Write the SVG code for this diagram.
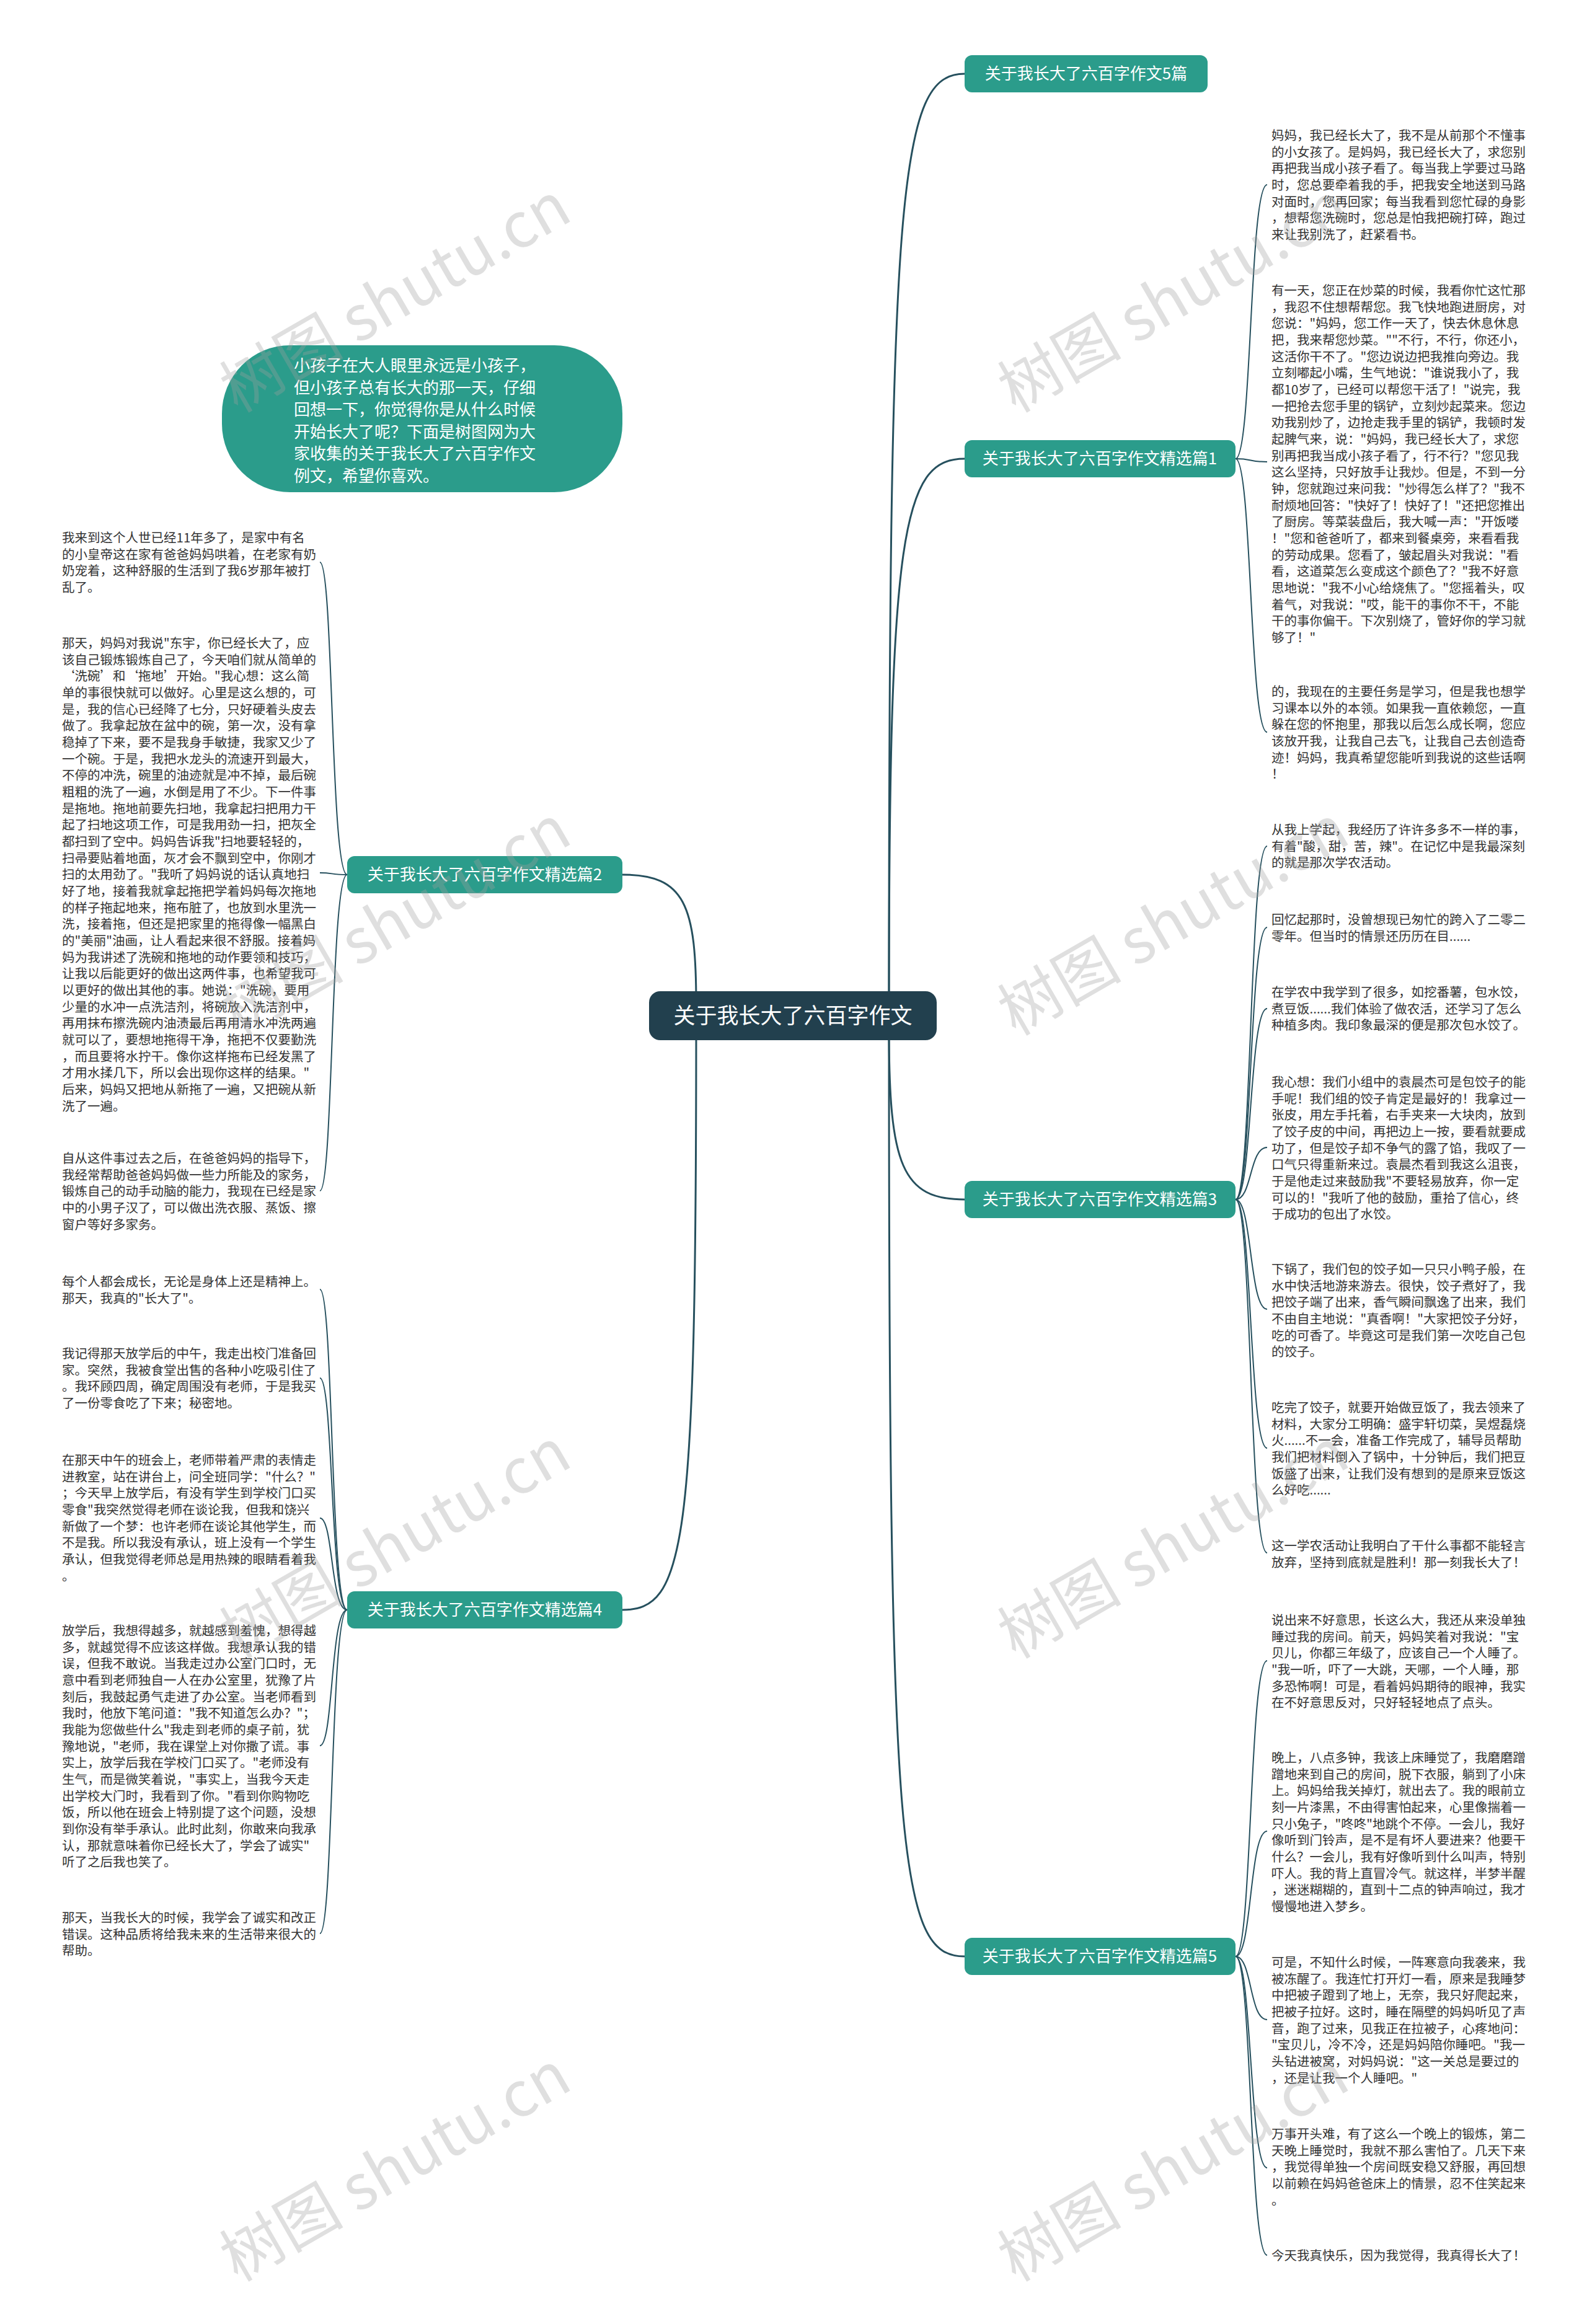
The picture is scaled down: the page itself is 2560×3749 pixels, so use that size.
<svg xmlns="http://www.w3.org/2000/svg" width="2560" height="3749" viewBox="0 0 2560 3749">
<style>
.t{font-family:"Noto Sans CJK SC","Noto Sans",sans-serif;font-size:20.5px;fill:#333333}
.bn{fill:#2b9c8b}
.bt{font-family:"Noto Sans CJK SC","Noto Sans",sans-serif;font-size:26px;fill:#ffffff;text-anchor:middle}
.it{font-family:"Noto Sans CJK SC","Noto Sans",sans-serif;font-size:26px;fill:#ffffff}
.c{fill:none;stroke:#26505e;stroke-width:3}
.lc{fill:none;stroke:#26505e;stroke-width:2}
.wm{font-family:"Noto Sans CJK SC","Liberation Serif",serif;font-size:100px;fill:#a0a0a0;opacity:0.33}
</style>
<rect x="0" y="0" width="2560" height="3749" fill="#ffffff"/>
<g id="connectors">
<path class="c" d="M1434 1620 C1434 300,1450 119,1556 119"/>
<path class="c" d="M1434 1620 C1434 860,1455 740,1556 740"/>
<path class="c" d="M1434 1660 C1434 1880,1455 1935,1556 1935"/>
<path class="c" d="M1434 1660 C1434 3000,1450 3156,1556 3156"/>
<path class="c" d="M1123 1620 C1123 1460,1105 1411,1004 1411"/>
<path class="c" d="M1123 1660 C1123 2500,1105 2597,1004 2597"/>
<path class="lc" d="M1993 740 C2020 740,2015 298,2044 298"/>
<path class="lc" d="M1993 740 C2020 740,2015 745,2044 745"/>
<path class="lc" d="M1993 740 C2020 740,2015 1181,2044 1181"/>
<path class="lc" d="M1993 1935 C2020 1935,2015 1365,2044 1365"/>
<path class="lc" d="M1993 1935 C2020 1935,2015 1496,2044 1496"/>
<path class="lc" d="M1993 1935 C2020 1935,2015 1627,2044 1627"/>
<path class="lc" d="M1993 1935 C2020 1935,2015 1851,2044 1851"/>
<path class="lc" d="M1993 1935 C2020 1935,2015 2112,2044 2112"/>
<path class="lc" d="M1993 1935 C2020 1935,2015 2336,2044 2336"/>
<path class="lc" d="M1993 1935 C2020 1935,2015 2505,2044 2505"/>
<path class="lc" d="M1993 3156 C2020 3156,2015 2679,2044 2679"/>
<path class="lc" d="M1993 3156 C2020 3156,2015 2954,2044 2954"/>
<path class="lc" d="M1993 3156 C2020 3156,2015 3258,2044 3258"/>
<path class="lc" d="M1993 3156 C2020 3156,2015 3497,2044 3497"/>
<path class="lc" d="M1993 3156 C2020 3156,2015 3638,2044 3638"/>
<path class="lc" d="M560 1411 C533 1411,538 907,516 907"/>
<path class="lc" d="M560 1411 C533 1411,538 1408,516 1408"/>
<path class="lc" d="M560 1411 C533 1411,538 1921,516 1921"/>
<path class="lc" d="M560 2597 C533 2597,538 2080,516 2080"/>
<path class="lc" d="M560 2597 C533 2597,538 2223,516 2223"/>
<path class="lc" d="M560 2597 C533 2597,538 2449,516 2449"/>
<path class="lc" d="M560 2597 C533 2597,538 2816,516 2816"/>
<path class="lc" d="M560 2597 C533 2597,538 3119,516 3119"/>
</g>
<g id="center">
<rect x="1047" y="1599" width="464" height="79" rx="18" fill="#22404e"/>
<text x="1279" y="1651" font-family="Noto Sans CJK SC,sans-serif" font-size="35" fill="#ffffff" text-anchor="middle">关于我长大了六百字作文</text>
</g>
<g id="intro">
<rect x="358" y="557" width="646" height="237" rx="110" class="bn"/>
<text class="it" x="474" y="599"><tspan x="474">小孩子在大人眼里永远是小孩子，</tspan><tspan x="474" dy="35.6">但小孩子总有长大的那一天，仔细</tspan><tspan x="474" dy="35.6">回想一下，你觉得你是从什么时候</tspan><tspan x="474" dy="35.6">开始长大了呢？下面是树图网为大</tspan><tspan x="474" dy="35.6">家收集的关于我长大了六百字作文</tspan><tspan x="474" dy="35.6">例文，希望你喜欢。</tspan></text>
</g>
<g id="b5pian">
<rect class="bn" x="1556" y="89" width="392" height="60" rx="12"/>
<text class="bt" x="1752" y="128">关于我长大了六百字作文5篇</text>
</g>
<g id="b1">
<rect class="bn" x="1556" y="710" width="437" height="60" rx="12"/>
<text class="bt" x="1774" y="749">关于我长大了六百字作文精选篇1</text>
</g>
<g id="b3">
<rect class="bn" x="1556" y="1905" width="437" height="60" rx="12"/>
<text class="bt" x="1774" y="1944">关于我长大了六百字作文精选篇3</text>
</g>
<g id="b5">
<rect class="bn" x="1556" y="3126" width="437" height="60" rx="12"/>
<text class="bt" x="1774" y="3165">关于我长大了六百字作文精选篇5</text>
</g>
<g id="b2">
<rect class="bn" x="560" y="1381" width="444" height="60" rx="12"/>
<text class="bt" x="782" y="1420">关于我长大了六百字作文精选篇2</text>
</g>
<g id="b4">
<rect class="bn" x="560" y="2567" width="444" height="60" rx="12"/>
<text class="bt" x="782" y="2606">关于我长大了六百字作文精选篇4</text>
</g>
<g id="r1"><text class="t" x="2051" y="226"><tspan x="2051">妈妈，我已经长大了，我不是从前那个不懂事</tspan><tspan x="2051" dy="26.67">的小女孩了。是妈妈，我已经长大了，求您别</tspan><tspan x="2051" dy="26.67">再把我当成小孩子看了。每当我上学要过马路</tspan><tspan x="2051" dy="26.67">时，您总要牵着我的手，把我安全地送到马路</tspan><tspan x="2051" dy="26.67">对面时，您再回家；每当我看到您忙碌的身影</tspan><tspan x="2051" dy="26.67">，想帮您洗碗时，您总是怕我把碗打碎，跑过</tspan><tspan x="2051" dy="26.67">来让我别洗了，赶紧看书。</tspan></text></g>
<g id="r2"><text class="t" x="2051" y="476"><tspan x="2051">有一天，您正在炒菜的时候，我看你忙这忙那</tspan><tspan x="2051" dy="26.67">，我忍不住想帮帮您。我飞快地跑进厨房，对</tspan><tspan x="2051" dy="26.67">您说："妈妈，您工作一天了，快去休息休息</tspan><tspan x="2051" dy="26.67">把，我来帮您炒菜。""不行，不行，你还小，</tspan><tspan x="2051" dy="26.67">这活你干不了。"您边说边把我推向旁边。我</tspan><tspan x="2051" dy="26.67">立刻嘟起小嘴，生气地说："谁说我小了，我</tspan><tspan x="2051" dy="26.67">都10岁了，已经可以帮您干活了！"说完，我</tspan><tspan x="2051" dy="26.67">一把抢去您手里的锅铲，立刻炒起菜来。您边</tspan><tspan x="2051" dy="26.67">劝我别炒了，边抢走我手里的锅铲，我顿时发</tspan><tspan x="2051" dy="26.67">起脾气来，说："妈妈，我已经长大了，求您</tspan><tspan x="2051" dy="26.67">别再把我当成小孩子看了，行不行？"您见我</tspan><tspan x="2051" dy="26.67">这么坚持，只好放手让我炒。但是，不到一分</tspan><tspan x="2051" dy="26.67">钟，您就跑过来问我："炒得怎么样了？"我不</tspan><tspan x="2051" dy="26.67">耐烦地回答："快好了！快好了！"还把您推出</tspan><tspan x="2051" dy="26.67">了厨房。等菜装盘后，我大喊一声："开饭喽</tspan><tspan x="2051" dy="26.67">！"您和爸爸听了，都来到餐桌旁，来看看我</tspan><tspan x="2051" dy="26.67">的劳动成果。您看了，皱起眉头对我说："看</tspan><tspan x="2051" dy="26.67">看，这道菜怎么变成这个颜色了？"我不好意</tspan><tspan x="2051" dy="26.67">思地说："我不小心给烧焦了。"您摇着头，叹</tspan><tspan x="2051" dy="26.67">着气，对我说："哎，能干的事你不干，不能</tspan><tspan x="2051" dy="26.67">干的事你偏干。下次别烧了，管好你的学习就</tspan><tspan x="2051" dy="26.67">够了！"</tspan></text></g>
<g id="r3"><text class="t" x="2051" y="1123"><tspan x="2051">的，我现在的主要任务是学习，但是我也想学</tspan><tspan x="2051" dy="26.67">习课本以外的本领。如果我一直依赖您，一直</tspan><tspan x="2051" dy="26.67">躲在您的怀抱里，那我以后怎么成长啊，您应</tspan><tspan x="2051" dy="26.67">该放开我，让我自己去飞，让我自己去创造奇</tspan><tspan x="2051" dy="26.67">迹！妈妈，我真希望您能听到我说的这些话啊</tspan><tspan x="2051" dy="26.67">！</tspan></text></g>
<g id="r4"><text class="t" x="2051" y="1346"><tspan x="2051">从我上学起，我经历了许许多多不一样的事，</tspan><tspan x="2051" dy="26.67">有着"酸，甜，苦，辣"。在记忆中是我最深刻</tspan><tspan x="2051" dy="26.67">的就是那次学农活动。</tspan></text></g>
<g id="r5"><text class="t" x="2051" y="1491"><tspan x="2051">回忆起那时，没曾想现已匆忙的跨入了二零二</tspan><tspan x="2051" dy="26.67">零年。但当时的情景还历历在目......</tspan></text></g>
<g id="r6"><text class="t" x="2051" y="1608"><tspan x="2051">在学农中我学到了很多，如挖番薯，包水饺，</tspan><tspan x="2051" dy="26.67">煮豆饭......我们体验了做农活，还学习了怎么</tspan><tspan x="2051" dy="26.67">种植多肉。我印象最深的便是那次包水饺了。</tspan></text></g>
<g id="r7"><text class="t" x="2051" y="1753"><tspan x="2051">我心想：我们小组中的袁晨杰可是包饺子的能</tspan><tspan x="2051" dy="26.67">手呢！我们组的饺子肯定是最好的！我拿过一</tspan><tspan x="2051" dy="26.67">张皮，用左手托着，右手夹来一大块肉，放到</tspan><tspan x="2051" dy="26.67">了饺子皮的中间，再把边上一按，要看就要成</tspan><tspan x="2051" dy="26.67">功了，但是饺子却不争气的露了馅，我叹了一</tspan><tspan x="2051" dy="26.67">口气只得重新来过。袁晨杰看到我这么沮丧，</tspan><tspan x="2051" dy="26.67">于是他走过来鼓励我"不要轻易放弃，你一定</tspan><tspan x="2051" dy="26.67">可以的！"我听了他的鼓励，重拾了信心，终</tspan><tspan x="2051" dy="26.67">于成功的包出了水饺。</tspan></text></g>
<g id="r8"><text class="t" x="2051" y="2055"><tspan x="2051">下锅了，我们包的饺子如一只只小鸭子般，在</tspan><tspan x="2051" dy="26.67">水中快活地游来游去。很快，饺子煮好了，我</tspan><tspan x="2051" dy="26.67">把饺子端了出来，香气瞬间飘逸了出来，我们</tspan><tspan x="2051" dy="26.67">不由自主地说："真香啊！"大家把饺子分好，</tspan><tspan x="2051" dy="26.67">吃的可香了。毕竟这可是我们第一次吃自己包</tspan><tspan x="2051" dy="26.67">的饺子。</tspan></text></g>
<g id="r9"><text class="t" x="2051" y="2278"><tspan x="2051">吃完了饺子，就要开始做豆饭了，我去领来了</tspan><tspan x="2051" dy="26.67">材料，大家分工明确：盛宇轩切菜，吴煜磊烧</tspan><tspan x="2051" dy="26.67">火......不一会，准备工作完成了，辅导员帮助</tspan><tspan x="2051" dy="26.67">我们把材料倒入了锅中，十分钟后，我们把豆</tspan><tspan x="2051" dy="26.67">饭盛了出来，让我们没有想到的是原来豆饭这</tspan><tspan x="2051" dy="26.67">么好吃......</tspan></text></g>
<g id="r10"><text class="t" x="2051" y="2501"><tspan x="2051">这一学农活动让我明白了干什么事都不能轻言</tspan><tspan x="2051" dy="26.67">放弃，坚持到底就是胜利！那一刻我长大了！</tspan></text></g>
<g id="r11"><text class="t" x="2051" y="2621"><tspan x="2051">说出来不好意思，长这么大，我还从来没单独</tspan><tspan x="2051" dy="26.67">睡过我的房间。前天，妈妈笑着对我说："宝</tspan><tspan x="2051" dy="26.67">贝儿，你都三年级了，应该自己一个人睡了。</tspan><tspan x="2051" dy="26.67">"我一听，吓了一大跳，天哪，一个人睡，那</tspan><tspan x="2051" dy="26.67">多恐怖啊！可是，看着妈妈期待的眼神，我实</tspan><tspan x="2051" dy="26.67">在不好意思反对，只好轻轻地点了点头。</tspan></text></g>
<g id="r12"><text class="t" x="2051" y="2843"><tspan x="2051">晚上，八点多钟，我该上床睡觉了，我磨磨蹭</tspan><tspan x="2051" dy="26.67">蹭地来到自己的房间，脱下衣服，躺到了小床</tspan><tspan x="2051" dy="26.67">上。妈妈给我关掉灯，就出去了。我的眼前立</tspan><tspan x="2051" dy="26.67">刻一片漆黑，不由得害怕起来，心里像揣着一</tspan><tspan x="2051" dy="26.67">只小兔子，"咚咚"地跳个不停。一会儿，我好</tspan><tspan x="2051" dy="26.67">像听到门铃声，是不是有坏人要进来？他要干</tspan><tspan x="2051" dy="26.67">什么？一会儿，我有好像听到什么叫声，特别</tspan><tspan x="2051" dy="26.67">吓人。我的背上直冒冷气。就这样，半梦半醒</tspan><tspan x="2051" dy="26.67">，迷迷糊糊的，直到十二点的钟声响过，我才</tspan><tspan x="2051" dy="26.67">慢慢地进入梦乡。</tspan></text></g>
<g id="r13"><text class="t" x="2051" y="3173"><tspan x="2051">可是，不知什么时候，一阵寒意向我袭来，我</tspan><tspan x="2051" dy="26.67">被冻醒了。我连忙打开灯一看，原来是我睡梦</tspan><tspan x="2051" dy="26.67">中把被子蹬到了地上，无奈，我只好爬起来，</tspan><tspan x="2051" dy="26.67">把被子拉好。这时，睡在隔壁的妈妈听见了声</tspan><tspan x="2051" dy="26.67">音，跑了过来，见我正在拉被子，心疼地问：</tspan><tspan x="2051" dy="26.67">"宝贝儿，冷不冷，还是妈妈陪你睡吧。"我一</tspan><tspan x="2051" dy="26.67">头钻进被窝，对妈妈说："这一关总是要过的</tspan><tspan x="2051" dy="26.67">，还是让我一个人睡吧。"</tspan></text></g>
<g id="r14"><text class="t" x="2051" y="3450"><tspan x="2051">万事开头难，有了这么一个晚上的锻炼，第二</tspan><tspan x="2051" dy="26.67">天晚上睡觉时，我就不那么害怕了。几天下来</tspan><tspan x="2051" dy="26.67">，我觉得单独一个房间既安稳又舒服，再回想</tspan><tspan x="2051" dy="26.67">以前赖在妈妈爸爸床上的情景，忍不住笑起来</tspan><tspan x="2051" dy="26.67">。</tspan></text></g>
<g id="r15"><text class="t" x="2051" y="3646">今天我真快乐，因为我觉得，我真得长大了！</text></g>
<g id="l1"><text class="t" x="100" y="875"><tspan x="100">我来到这个人世已经11年多了，是家中有名</tspan><tspan x="100" dy="26.67">的小皇帝这在家有爸爸妈妈哄着，在老家有奶</tspan><tspan x="100" dy="26.67">奶宠着，这种舒服的生活到了我6岁那年被打</tspan><tspan x="100" dy="26.67">乱了。</tspan></text></g>
<g id="l2"><text class="t" x="100" y="1045"><tspan x="100">那天，妈妈对我说"东宇，你已经长大了，应</tspan><tspan x="100" dy="26.67">该自己锻炼锻炼自己了，今天咱们就从简单的</tspan><tspan x="100" dy="26.67">‘洗碗’和‘拖地’开始。"我心想：这么简</tspan><tspan x="100" dy="26.67">单的事很快就可以做好。心里是这么想的，可</tspan><tspan x="100" dy="26.67">是，我的信心已经降了七分，只好硬着头皮去</tspan><tspan x="100" dy="26.67">做了。我拿起放在盆中的碗，第一次，没有拿</tspan><tspan x="100" dy="26.67">稳掉了下来，要不是我身手敏捷，我家又少了</tspan><tspan x="100" dy="26.67">一个碗。于是，我把水龙头的流速开到最大，</tspan><tspan x="100" dy="26.67">不停的冲洗，碗里的油迹就是冲不掉，最后碗</tspan><tspan x="100" dy="26.67">粗粗的洗了一遍，水倒是用了不少。下一件事</tspan><tspan x="100" dy="26.67">是拖地。拖地前要先扫地，我拿起扫把用力干</tspan><tspan x="100" dy="26.67">起了扫地这项工作，可是我用劲一扫，把灰全</tspan><tspan x="100" dy="26.67">都扫到了空中。妈妈告诉我"扫地要轻轻的，</tspan><tspan x="100" dy="26.67">扫帚要贴着地面，灰才会不飘到空中，你刚才</tspan><tspan x="100" dy="26.67">扫的太用劲了。"我听了妈妈说的话认真地扫</tspan><tspan x="100" dy="26.67">好了地，接着我就拿起拖把学着妈妈每次拖地</tspan><tspan x="100" dy="26.67">的样子拖起地来，拖布脏了，也放到水里洗一</tspan><tspan x="100" dy="26.67">洗，接着拖，但还是把家里的拖得像一幅黑白</tspan><tspan x="100" dy="26.67">的"美丽"油画，让人看起来很不舒服。接着妈</tspan><tspan x="100" dy="26.67">妈为我讲述了洗碗和拖地的动作要领和技巧，</tspan><tspan x="100" dy="26.67">让我以后能更好的做出这两件事，也希望我可</tspan><tspan x="100" dy="26.67">以更好的做出其他的事。她说："洗碗，要用</tspan><tspan x="100" dy="26.67">少量的水冲一点洗洁剂，将碗放入洗洁剂中，</tspan><tspan x="100" dy="26.67">再用抹布擦洗碗内油渍最后再用清水冲洗两遍</tspan><tspan x="100" dy="26.67">就可以了，要想地拖得干净，拖把不仅要勤洗</tspan><tspan x="100" dy="26.67">，而且要将水拧干。像你这样拖布已经发黑了</tspan><tspan x="100" dy="26.67">才用水揉几下，所以会出现你这样的结果。"</tspan><tspan x="100" dy="26.67">后来，妈妈又把地从新拖了一遍，又把碗从新</tspan><tspan x="100" dy="26.67">洗了一遍。</tspan></text></g>
<g id="l3"><text class="t" x="100" y="1876"><tspan x="100">自从这件事过去之后，在爸爸妈妈的指导下，</tspan><tspan x="100" dy="26.67">我经常帮助爸爸妈妈做一些力所能及的家务，</tspan><tspan x="100" dy="26.67">锻炼自己的动手动脑的能力，我现在已经是家</tspan><tspan x="100" dy="26.67">中的小男子汉了，可以做出洗衣服、蒸饭、擦</tspan><tspan x="100" dy="26.67">窗户等好多家务。</tspan></text></g>
<g id="l4"><text class="t" x="100" y="2075"><tspan x="100">每个人都会成长，无论是身体上还是精神上。</tspan><tspan x="100" dy="26.67">那天，我真的"长大了"。</tspan></text></g>
<g id="l5"><text class="t" x="100" y="2191"><tspan x="100">我记得那天放学后的中午，我走出校门准备回</tspan><tspan x="100" dy="26.67">家。突然，我被食堂出售的各种小吃吸引住了</tspan><tspan x="100" dy="26.67">。我环顾四周，确定周围没有老师，于是我买</tspan><tspan x="100" dy="26.67">了一份零食吃了下来；秘密地。</tspan></text></g>
<g id="l6"><text class="t" x="100" y="2363"><tspan x="100">在那天中午的班会上，老师带着严肃的表情走</tspan><tspan x="100" dy="26.67">进教室，站在讲台上，问全班同学："什么？"</tspan><tspan x="100" dy="26.67">；今天早上放学后，有没有学生到学校门口买</tspan><tspan x="100" dy="26.67">零食"我突然觉得老师在谈论我，但我和饶兴</tspan><tspan x="100" dy="26.67">新做了一个梦：也许老师在谈论其他学生，而</tspan><tspan x="100" dy="26.67">不是我。所以我没有承认，班上没有一个学生</tspan><tspan x="100" dy="26.67">承认，但我觉得老师总是用热辣的眼睛看着我</tspan><tspan x="100" dy="26.67">。</tspan></text></g>
<g id="l7"><text class="t" x="100" y="2638"><tspan x="100">放学后，我想得越多，就越感到羞愧，想得越</tspan><tspan x="100" dy="26.67">多，就越觉得不应该这样做。我想承认我的错</tspan><tspan x="100" dy="26.67">误，但我不敢说。当我走过办公室门口时，无</tspan><tspan x="100" dy="26.67">意中看到老师独自一人在办公室里，犹豫了片</tspan><tspan x="100" dy="26.67">刻后，我鼓起勇气走进了办公室。当老师看到</tspan><tspan x="100" dy="26.67">我时，他放下笔问道："我不知道怎么办？"；</tspan><tspan x="100" dy="26.67">我能为您做些什么"我走到老师的桌子前，犹</tspan><tspan x="100" dy="26.67">豫地说，"老师，我在课堂上对你撒了谎。事</tspan><tspan x="100" dy="26.67">实上，放学后我在学校门口买了。"老师没有</tspan><tspan x="100" dy="26.67">生气，而是微笑着说，"事实上，当我今天走</tspan><tspan x="100" dy="26.67">出学校大门时，我看到了你。"看到你购物吃</tspan><tspan x="100" dy="26.67">饭，所以他在班会上特别提了这个问题，没想</tspan><tspan x="100" dy="26.67">到你没有举手承认。此时此刻，你敢来向我承</tspan><tspan x="100" dy="26.67">认，那就意味着你已经长大了，学会了诚实"</tspan><tspan x="100" dy="26.67">听了之后我也笑了。</tspan></text></g>
<g id="l8"><text class="t" x="100" y="3101"><tspan x="100">那天，当我长大的时候，我学会了诚实和改正</tspan><tspan x="100" dy="26.67">错误。这种品质将给我未来的生活带来很大的</tspan><tspan x="100" dy="26.67">帮助。</tspan></text></g>
<g id="watermarks">
<text class="wm" transform="translate(655 510) rotate(-30)" text-anchor="middle">树图 shutu.cn</text>
<text class="wm" transform="translate(1910 510) rotate(-30)" text-anchor="middle">树图 shutu.cn</text>
<text class="wm" transform="translate(655 1515) rotate(-30)" text-anchor="middle">树图 shutu.cn</text>
<text class="wm" transform="translate(1910 1515) rotate(-30)" text-anchor="middle">树图 shutu.cn</text>
<text class="wm" transform="translate(655 2520) rotate(-30)" text-anchor="middle">树图 shutu.cn</text>
<text class="wm" transform="translate(1910 2520) rotate(-30)" text-anchor="middle">树图 shutu.cn</text>
<text class="wm" transform="translate(655 3525) rotate(-30)" text-anchor="middle">树图 shutu.cn</text>
<text class="wm" transform="translate(1910 3525) rotate(-30)" text-anchor="middle">树图 shutu.cn</text>
</g>
</svg>
